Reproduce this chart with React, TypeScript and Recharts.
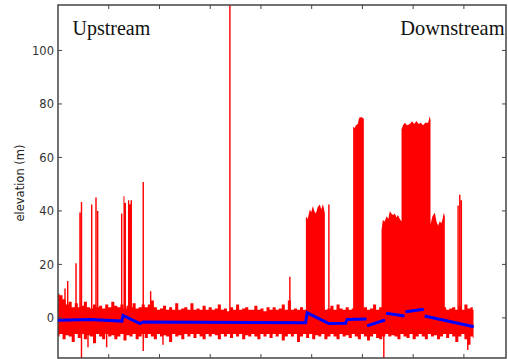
import React from 'react';
import { ComposedChart, Area, Line, XAxis, YAxis, ReferenceArea } from 'recharts';

// x in "distance units" (100 per axis tick), y = elevation (m)
const xTicks = [0, 100, 200, 300, 400, 500, 600, 700, 800];
const yTicks = [0, 20, 40, 60, 80, 100];

// noisy red signal: envelope of the dense record, sampled every 6 units
const bandX = [
  0, 6, 12, 18, 24, 30, 36, 42, 48, 54,
  60, 66, 72, 78, 84, 90, 96, 102, 108, 114,
  120, 126, 132, 138, 144, 150, 156, 162, 168, 174,
  180, 186, 192, 198, 204, 210, 216, 222, 228, 234,
  240, 246, 252, 258, 264, 270, 276, 282, 288, 294,
  300, 306, 312, 318, 324, 330, 336, 342, 348, 354,
  360, 366, 372, 378, 384, 390, 396, 402, 408, 414,
  420, 426, 432, 438, 444, 450, 456, 462, 468, 474,
  480, 486, 492, 498, 504, 510, 516, 522, 528, 534,
  540, 546, 552, 558, 564, 570, 576, 582, 588, 594,
  600, 606, 612, 618, 624, 630, 636, 642, 648, 654,
  660, 666, 672, 678, 684, 690, 696, 702, 708, 714,
  720, 726, 732, 738, 744, 750, 756, 762, 768, 774,
  780, 786, 792, 798, 804, 810, 816, 819];
const bandHigh = [
  9, 8.5, 7, 5, 6, 4, 5.5, 4, 4.5, 6,
  4, 3.5, 5, 4, 4.5, 3.5, 5, 4, 6, 4.5,
  4, 5, 3.5, 4.5, 4, 5.5, 3.5, 4, 5, 4,
  5, 6.5, 4, 3, 3.5, 4.5, 3, 4, 3, 5.5,
  3, 3.5, 4, 3, 5.5, 3, 3.5, 3, 4.5, 3,
  4, 3, 3.5, 5, 3, 3.5, 2.5, 4, 3, 5,
  3, 3.5, 4, 3, 3, 4.5, 3, 3.5, 2.5, 4,
  3, 4, 3, 3.5, 5, 3, 6.5, 3, 3.5, 3,
  4, 3, 3.5, 4.5, 3, 3.5, 3, 4, 3, 3.5,
  4.5, 3, 5, 3.5, 3, 4, 3, 3.5, 4, 3,
  3.5, 4, 3, 3.5, 5, 3, 4, 3, 3.5, 4,
  3, 3.5, 4, 3, 4.5, 3, 3.5, 4, 3, 5,
  3, 3.5, 4, 3, 3.5, 4.5, 3, 4, 3, 3.5,
  4, 3, 4.5, 3, 5, 3.5, 4, 3];
const bandLow = [
  -7, -6, -8, -6.5, -7, -9, -6, -7.5, -6, -8,
  -6.5, -7, -9.5, -6, -7, -8, -6, -7, -6.5, -8,
  -7, -6, -8.5, -6.5, -7, -6, -8, -7, -6, -7.5,
  -6, -7, -8, -6, -7, -6.5, -7, -9, -6, -7,
  -6.5, -8, -6, -7, -6, -7.5, -6, -7, -8, -6,
  -7, -6, -6.5, -8, -6, -7, -6, -7.5, -6, -7,
  -6, -8, -6.5, -7, -6, -7, -8, -6, -7, -6,
  -7.5, -6, -7, -6, -8.5, -7, -6, -7, -6, -9,
  -7, -6, -7.5, -6, -8, -6.5, -7, -6, -8, -7,
  -6, -7, -8, -6, -7, -6.5, -7.5, -6, -7, -8,
  -6, -7, -8.5, -7, -6, -7.5, -8, -7, -6, -7,
  -6.5, -7, -8, -6, -7, -7.5, -6, -8, -7, -6,
  -7, -8, -6, -7, -6.5, -8, -7, -6, -7.5, -6,
  -7, -9, -7, -6, -8, -10, -7, -7.5];

// isolated thin spikes (low, high)
const spikeX = [13.8, 19.1, 35.5, 43.3, 46.3, 59.1, 66.4, 74.9, 78.2, 95.9, 125.5, 168.0, 182.6, 206.9,
  338.8, 457.0, 533.9, 642.2, 788.6, 791.9, 795.0, 807.7];
const spikeLow = [0, 0, 0, 0, -16, -11, 0, 0, 0, -11, 0, -12.4, 0, -10,
  0, 0, 0, -16, 0, 0, 0, -12];
const spikeHigh = [11, 13.8, 20.4, 39.4, 43.3, 0, 42.4, 45, 40, 0, 39, 50.8, 10, 0,
  130, 15.4, 42.4, 0, 42, 46, 44, 0];
const SPIKE_HALF = 1.4;

// wide blocks of high returns (profile of their tops)
const blockX = [129, 129, 131, 131, 134, 134,
  137.9, 137.9, 140.5, 140.5, 143, 143, 145.8, 145.8,
  488.6, 488.6, 492, 496.4, 499, 502.4, 505, 508.3, 512, 516.1, 519, 522, 524, 526, 526,
  581.7, 581.7, 585, 587.1, 591, 593, 594.9, 598.9, 602.8, 602.8,
  637.7, 637.7, 640.3, 644, 647.5, 651, 654, 657, 660.5, 664, 667.2, 670, 673.7, 677.1,
  677.1, 680, 683.6, 688, 693.4, 698, 702, 706.6, 711, 715, 719.6, 724, 729.5, 732.8, 734.2,
  734.2, 738, 742.7, 746, 749.2, 752, 755.9, 758, 760.4, 762.4, 762.4];
const blockTop = [0, 45.5, 45.5, 43, 43, 0,
  0, 44, 44, 42.5, 42.5, 44, 44, 0,
  0, 38, 37, 40.5, 39.5, 41.8, 40, 39, 41.5, 42.4, 40.5, 42.6, 41, 39, 0,
  0, 71.5, 71, 72, 72.5, 74.5, 75, 75, 74.5, 0,
  0, 33, 36.6, 36, 38, 37, 40, 39, 38.5, 39, 37.5, 38.5, 37, 36,
  70.5, 72, 73, 72, 72.5, 73.5, 72.5, 73.6, 72.5, 73, 72, 73, 73, 75.4, 74,
  35, 38, 39.3, 36, 34.5, 36, 35.5, 37, 39.3, 38, 0];

// blue trend line (null = break)
const trendX = [0, 63, 126.1, 128.1, 161.5, 167.5, 279.7, 384.2, 488, 491.1, 533.9, 566.8, 569.9, 608.1, 608.7,
  609.3, 644.6, 645.6, 646.6, 683, 684, 685, 721, 721.8, 722.6, 819.5];
const trendY: (number | null)[] = [-0.9, -0.6, -1.2, 0.9, -2.1, -1.5, -1.6, -1.7, -1.8, 1.9, -2.1, -2.0, -0.6, -0.4, null,
  -3.0, -0.8, null, 1.7, 0.7, null, 2.3, 3.2, null, 0.7, -3.3];

const W = 508;
const H = 359;
const PLOT_LEFT = 58;
const PLOT_RIGHT = 506;
const PLOT_TOP = 5;
const PLOT_BOTTOM = 358;
const TICK_LEN = 4;
const FRAME = '#444';

const XTick = (props: any) => {
  const { x, payload } = props;
  if (payload.value === 0) return <g />;
  return (
    <g>
      <line x1={x} x2={x} y1={PLOT_BOTTOM} y2={PLOT_BOTTOM - TICK_LEN} stroke={FRAME} strokeWidth={1} />
      <line x1={x} x2={x} y1={PLOT_TOP} y2={PLOT_TOP + TICK_LEN} stroke={FRAME} strokeWidth={1} />
    </g>
  );
};

const YTick = (props: any) => {
  const { y, payload } = props;
  return (
    <g>
      <line x1={PLOT_LEFT} x2={PLOT_LEFT + TICK_LEN} y1={y} y2={y} stroke={FRAME} strokeWidth={1} />
      <line x1={PLOT_RIGHT} x2={PLOT_RIGHT - TICK_LEN} y1={y} y2={y} stroke={FRAME} strokeWidth={1} />
      <text x={PLOT_LEFT - 4} y={y} dy="0.36em" textAnchor="end" fontFamily="DejaVu Sans" fontSize={11.5} fill="#333">
        {payload.value}
      </text>
    </g>
  );
};

export default function App() {
  const bandData = bandX.map((x, i) => ({ x, r: [bandLow[i], bandHigh[i]] }));
  const spikeData: { x: number; r: number[] }[] = [];
  spikeX.forEach((x, i) => {
    spikeData.push({ x: x - SPIKE_HALF, r: [0, 0] });
    spikeData.push({ x: x - SPIKE_HALF, r: [spikeLow[i], spikeHigh[i]] });
    spikeData.push({ x: x + SPIKE_HALF, r: [spikeLow[i], spikeHigh[i]] });
    spikeData.push({ x: x + SPIKE_HALF, r: [0, 0] });
  });
  const blockData = blockX.map((x, i) => ({ x, r: [0, blockTop[i]] }));
  const trendData = trendX.map((x, i) => ({ x, y: trendY[i] }));

  return (
    <div style={{ position: 'absolute', left: 0, top: 0, width: W, height: H, background: '#fff', overflow: 'hidden' }}>
      <ComposedChart width={W} height={H} margin={{ top: PLOT_TOP, right: W - PLOT_RIGHT, bottom: 0, left: 0 }}>
        <XAxis
          dataKey="x"
          type="number"
          domain={[0, 883]}
          ticks={xTicks}
          interval={0}
          allowDataOverflow
          height={H - PLOT_BOTTOM}
          axisLine={false}
          tickLine={false}
          tick={<XTick />}
        />
        <YAxis
          type="number"
          domain={[-15, 117]}
          ticks={yTicks}
          interval={0}
          allowDataOverflow
          width={PLOT_LEFT}
          axisLine={false}
          tickLine={false}
          tick={<YTick />}
        />
        <Area data={bandData} dataKey="r" type="step" fill="#ff0000" fillOpacity={1} stroke="none" dot={false} activeDot={false} isAnimationActive={false} />
        <Area data={blockData} dataKey="r" type="linear" fill="#ff0000" fillOpacity={1} stroke="none" dot={false} activeDot={false} isAnimationActive={false} />
        <Area data={spikeData} dataKey="r" type="linear" fill="#ff0000" fillOpacity={1} stroke="none" dot={false} activeDot={false} isAnimationActive={false} />
        <Line data={trendData} dataKey="y" type="linear" stroke="#0000ff" strokeWidth={3} dot={false} activeDot={false} connectNulls={false} isAnimationActive={false} />
        <ReferenceArea x1={0} x2={883} y1={-15} y2={117} fill="none" stroke={FRAME} strokeWidth={1.5} ifOverflow="visible" />
      </ComposedChart>
      <svg width={W} height={H} style={{ position: 'absolute', left: 0, top: 0, pointerEvents: 'none' }}>
        <text x={72.5} y={35} fontFamily="Liberation Serif" fontSize={20} fill="#111">Upstream</text>
        <text x={504.5} y={35} textAnchor="end" fontFamily="Liberation Serif" fontSize={20.4} fill="#111">Downstream</text>
        <text transform="translate(20,183) rotate(-90)" textAnchor="middle" dominantBaseline="central" fontFamily="DejaVu Sans" fontSize={11.5} fill="#222">elevation (m)</text>
      </svg>
    </div>
  );
}
